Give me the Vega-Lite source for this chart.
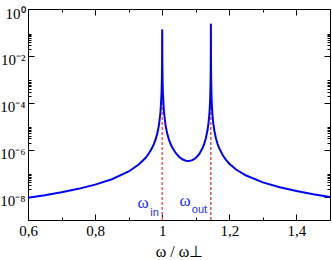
{
  "$schema": "https://vega.github.io/schema/vega-lite/v6.json",
  "width": 302,
  "height": 211,
  "autosize": {"type": "none"},
  "padding": {"left": 28, "top": 9, "right": 2, "bottom": 40},
  "background": "white",
  "config": {
    "view": {"stroke": null},
    "axis": {
      "grid": false,
      "domainColor": "black",
      "domainWidth": 1,
      "tickColor": "black",
      "tickWidth": 1,
      "labelColor": "black",
      "labelFont": "Liberation Serif, Times New Roman, serif",
      "labelFontSize": 15,
      "labelOverlap": false,
      "labelBound": false,
      "labelFlush": false,
      "titleFont": "Liberation Serif, Times New Roman, serif",
      "titleFontWeight": "normal",
      "titleColor": "black"
    }
  },
  "resolve": {"axis": {"x": "independent", "y": "independent"}},
  "layer": [
    {
      "data": {"values": [{"w": 1.0, "lo": 1e-9, "hi": 0.1325}]},
      "mark": {"type": "rule", "color": "#ff5a5a", "strokeWidth": 1.5, "strokeDash": [3, 2]},
      "encoding": {
        "x": {
          "field": "w", "type": "quantitative",
          "scale": {"domain": [0.6, 1.5], "nice": false, "zero": false},
          "axis": {
            "orient": "bottom",
            "values": [0.6, 0.7, 0.8, 0.9, 1.0, 1.1, 1.2, 1.3, 1.4, 1.5],
            "tickSize": {"condition": {"test": "round(datum.value*10) % 2 === 0", "value": -6}, "value": -3},
            "labelExpr": "round(datum.value*10) % 2 === 0 ? replace(format(datum.value, '~g'), '.', ',') : ''",
            "labelFont": "Liberation Serif, Times New Roman, serif",
            "labelFontSize": 15,
            "labelPadding": 9,
            "title": "ω / ω⊥",
            "titleFont": "Liberation Serif, Times New Roman, serif",
            "titleFontSize": 16,
            "titlePadding": 2
          }
        },
        "y": {
          "field": "lo", "type": "quantitative",
          "scale": {"type": "log", "domain": [1e-9, 1], "nice": false},
          "axis": {
            "orient": "left",
            "values": [1, 0.01, 0.0001, 1e-6, 1e-8, 0.02, 0.03, 0.04, 0.05, 0.06, 0.07, 0.08, 0.09, 0.0002, 0.0003, 0.0004, 0.0005, 0.0006, 0.0007, 0.0008, 0.0009, 2e-6, 3e-6, 4e-6, 5e-6, 6e-6, 7e-6, 8e-6, 9e-6, 2e-8, 3e-8, 4e-8, 5e-8, 6e-8, 7e-8, 8e-8, 9e-8],
            "tickSize": {"condition": {"test": "abs(log(datum.value)/LN10 - round(log(datum.value)/LN10)) < 0.001", "value": -6}, "value": -3},
            "labelExpr": "abs(log(datum.value)/LN10 - round(log(datum.value)/LN10)) < 0.001 ? '10' + replace(replace(replace(replace(replace(replace(round(log(datum.value)/LN10) + '', '-', '⁻'), '0', '⁰'), '2', '²'), '4', '⁴'), '6', '⁶'), '8', '⁸') : ''",
            "labelFont": "Liberation Serif, Times New Roman, serif",
            "labelFontSize": 15,
            "labelBaseline": "top",
            "labelOffset": -3,
            "labelPadding": 9,
            "title": null
          }
        },
        "y2": {"field": "hi"}
      }
    },
    {
      "data": {"values": [{"w": 1.145, "lo": 1e-9, "hi": 0.2345}]},
      "mark": {"type": "rule", "color": "#b80000", "strokeWidth": 1, "strokeDash": [3, 2]},
      "encoding": {
        "x": {
          "field": "w", "type": "quantitative",
          "scale": {"domain": [0.6, 1.5], "nice": false, "zero": false},
          "axis": {
            "orient": "top",
            "values": [0.6, 0.7, 0.8, 0.9, 1.0, 1.1, 1.2, 1.3, 1.4, 1.5],
            "tickSize": {"condition": {"test": "round(datum.value*10) % 2 === 0", "value": -6}, "value": -3},
            "labels": false,
            "title": null
          }
        },
        "y": {
          "field": "lo", "type": "quantitative",
          "scale": {"type": "log", "domain": [1e-9, 1], "nice": false},
          "axis": {
            "orient": "right",
            "values": [1, 0.01, 0.0001, 1e-6, 1e-8, 0.02, 0.03, 0.04, 0.05, 0.06, 0.07, 0.08, 0.09, 0.0002, 0.0003, 0.0004, 0.0005, 0.0006, 0.0007, 0.0008, 0.0009, 2e-6, 3e-6, 4e-6, 5e-6, 6e-6, 7e-6, 8e-6, 9e-6, 2e-8, 3e-8, 4e-8, 5e-8, 6e-8, 7e-8, 8e-8, 9e-8],
            "tickSize": {"condition": {"test": "abs(log(datum.value)/LN10 - round(log(datum.value)/LN10)) < 0.001", "value": -6}, "value": -3},
            "labels": false,
            "title": null
          }
        },
        "y2": {"field": "hi"}
      }
    },
    {
      "data": {"values": [
        {"w": 0.60, "s": 8.92e-9}, {"w": 0.65, "s": 1.143e-8}, {"w": 0.70, "s": 1.521e-8},
        {"w": 0.75, "s": 2.132e-8}, {"w": 0.80, "s": 3.221e-8}, {"w": 0.85, "s": 5.49e-8},
        {"w": 0.90, "s": 1.173e-7}, {"w": 0.93, "s": 2.31e-7}, {"w": 0.95, "s": 4.42e-7},
        {"w": 0.96, "s": 6.82e-7}, {"w": 0.97, "s": 1.2e-6}, {"w": 0.975, "s": 1.72e-6},
        {"w": 0.98, "s": 2.675e-6}, {"w": 0.985, "s": 4.74e-6}, {"w": 0.99, "s": 1.062e-5},
        {"w": 0.995, "s": 4.242e-5}, {"w": 0.998, "s": 2.645e-4}, {"w": 0.999, "s": 1.052e-3},
        {"w": 0.9995, "s": 4.109e-3}, {"w": 0.9998, "s": 2.208e-2}, {"w": 0.9999, "s": 5.89e-2},
        {"w": 1.0, "s": 0.1325},
        {"w": 1.0001, "s": 5.89e-2}, {"w": 1.0002, "s": 2.208e-2}, {"w": 1.0005, "s": 4.109e-3},
        {"w": 1.001, "s": 1.052e-3}, {"w": 1.002, "s": 2.645e-4}, {"w": 1.005, "s": 4.243e-5},
        {"w": 1.01, "s": 1.064e-5}, {"w": 1.015, "s": 4.75e-6}, {"w": 1.02, "s": 2.694e-6},
        {"w": 1.025, "s": 1.743e-6}, {"w": 1.03, "s": 1.229e-6}, {"w": 1.04, "s": 7.24e-7},
        {"w": 1.05, "s": 4.99e-7}, {"w": 1.06, "s": 3.885e-7}, {"w": 1.07, "s": 3.372e-7},
        {"w": 1.08, "s": 3.265e-7}, {"w": 1.09, "s": 3.557e-7}, {"w": 1.10, "s": 4.418e-7},
        {"w": 1.11, "s": 6.43e-7}, {"w": 1.12, "s": 1.162e-6}, {"w": 1.125, "s": 1.768e-6},
        {"w": 1.13, "s": 3.085e-6}, {"w": 1.135, "s": 6.86e-6}, {"w": 1.138, "s": 1.39e-5},
        {"w": 1.14, "s": 2.725e-5}, {"w": 1.141, "s": 4.25e-5}, {"w": 1.142, "s": 7.56e-5},
        {"w": 1.143, "s": 1.7e-4}, {"w": 1.144, "s": 6.78e-4}, {"w": 1.1445, "s": 2.689e-3},
        {"w": 1.1448, "s": 1.585e-2}, {"w": 1.1449, "s": 5.27e-2}, {"w": 1.145, "s": 0.2345},
        {"w": 1.1451, "s": 5.27e-2}, {"w": 1.1452, "s": 1.585e-2}, {"w": 1.1455, "s": 2.689e-3},
        {"w": 1.146, "s": 6.78e-4}, {"w": 1.147, "s": 1.7e-4}, {"w": 1.148, "s": 7.56e-5},
        {"w": 1.149, "s": 4.25e-5}, {"w": 1.15, "s": 2.725e-5}, {"w": 1.152, "s": 1.395e-5},
        {"w": 1.155, "s": 6.84e-6}, {"w": 1.16, "s": 3.063e-6}, {"w": 1.165, "s": 1.739e-6},
        {"w": 1.17, "s": 1.125e-6}, {"w": 1.18, "s": 5.878e-7}, {"w": 1.19, "s": 3.65e-7},
        {"w": 1.20, "s": 2.513e-7}, {"w": 1.22, "s": 1.428e-7}, {"w": 1.25, "s": 7.87e-8},
        {"w": 1.30, "s": 4.01e-8}, {"w": 1.35, "s": 2.483e-8}, {"w": 1.40, "s": 1.709e-8},
        {"w": 1.45, "s": 1.254e-8}, {"w": 1.50, "s": 9.64e-9}
      ]},
      "mark": {"type": "line", "color": "#0000ff", "strokeWidth": 2},
      "encoding": {
        "x": {"field": "w", "type": "quantitative", "axis": null},
        "y": {"field": "s", "type": "quantitative", "axis": null}
      }
    },
    {
      "data": {"values": [
        {"t": "ω", "w": 0.943, "v": 3.4e-9},
        {"t": "ω", "w": 1.068, "v": 4.1e-9}
      ]},
      "mark": {"type": "text", "color": "#1f2fff", "font": "Liberation Serif, Times New Roman, serif", "fontSize": 17, "align": "center", "baseline": "alphabetic"},
      "encoding": {
        "x": {"field": "w", "type": "quantitative", "axis": null},
        "y": {"field": "v", "type": "quantitative", "axis": null},
        "text": {"field": "t"}
      }
    },
    {
      "data": {"values": [
        {"t": "in", "w": 0.977, "v": 1.55e-9},
        {"t": "out", "w": 1.111, "v": 2.05e-9}
      ]},
      "mark": {"type": "text", "color": "#1f2fff", "font": "Liberation Sans", "fontSize": 11, "align": "center", "baseline": "alphabetic"},
      "encoding": {
        "x": {"field": "w", "type": "quantitative", "axis": null},
        "y": {"field": "v", "type": "quantitative", "axis": null},
        "text": {"field": "t"}
      }
    }
  ]
}
